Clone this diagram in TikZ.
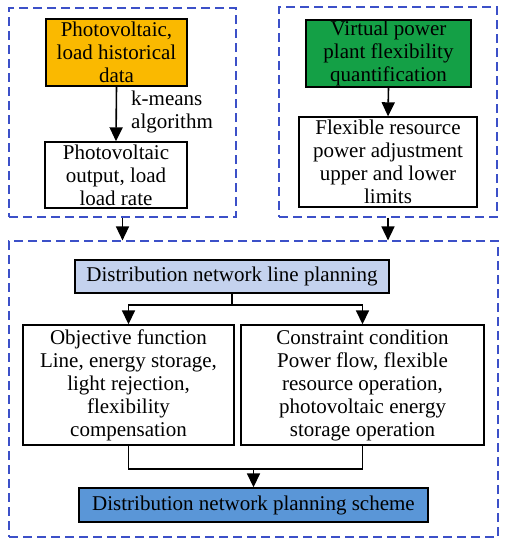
\documentclass[tikz,border=0pt]{standalone}
\usepackage{fontspec}
\setmainfont{Liberation Serif}
\usetikzlibrary{arrows.meta}
\definecolor{dashblue}{RGB}{60,80,200}
\definecolor{boxorange}{RGB}{250,185,0}
\definecolor{boxgreen}{RGB}{20,160,70}
\definecolor{lightblue}{RGB}{196,210,238}
\definecolor{midblue}{RGB}{90,150,215}
\begin{document}
\begin{tikzpicture}[x=1pt,y=-1pt,
  every node/.style={font=\fontsize{21}{23}\selectfont, inner sep=0pt, align=center},
  blockbox/.style={draw=black, line width=1.4pt, rectangle},
  groupbox/.style={draw=dashblue, line width=1.2pt, dash pattern=on 9pt off 5pt, rectangle},
  arr/.style={line width=1.6pt, -{Triangle[length=14pt,width=13pt]}},
  ln/.style={line width=1.6pt}]
\useasboundingbox (0,0) rectangle (506,550);
% group boxes
\node[groupbox, minimum width=227pt, minimum height=209pt] (L) at (122.5,112.5) {};
\node[groupbox, minimum width=218pt, minimum height=210pt] (R) at (388,112) {};
\node[groupbox, minimum width=489pt, minimum height=296pt] (B) at (253.5,389) {};
% blocks
\node[blockbox, fill=boxorange, minimum width=141pt, minimum height=67pt] (pv) at (116.5,52.5) {Photovoltaic,\\load historical\\data};
\node[blockbox, fill=white, minimum width=142pt, minimum height=66pt] (out) at (116,175) {Photovoltaic\\output, load\\load rate};
\node[anchor=west, align=left] (km) at (131,112) {k-means\\algorithm};
\node[blockbox, fill=boxgreen, minimum width=165pt, minimum height=67pt] (vpp) at (388.5,53.5) {Virtual power\\plant flexibility\\quantification};
\node[blockbox, fill=white, minimum width=178pt, minimum height=90pt] (flex) at (388,162) {Flexible resource\\power adjustment\\upper and lower\\limits};
\node[blockbox, fill=lightblue, minimum width=314pt, minimum height=33pt] (plan) at (232,276.5) {Distribution network line planning};
\node[blockbox, fill=white, minimum width=211pt, minimum height=120pt] (obj) at (128.5,385) {Objective function\\Line, energy storage,\\light rejection,\\flexibility\\compensation};
\node[blockbox, fill=white, minimum width=243pt, minimum height=120pt] (con) at (362.5,385) {Constraint condition\\Power flow, flexible\\resource operation,\\photovoltaic energy\\storage operation};
\node[blockbox, fill=midblue, minimum width=349pt, minimum height=34pt] (sch) at (253.5,505) {Distribution network planning scheme};
% connectors
\draw[arr] (pv.south) -- (out.north);
\draw[arr] (vpp.south) -- (flex.north);
\draw[arr] (L.south) -- (L.south |- B.north);
\draw[arr] (R.south) -- (R.south |- B.north);
\coordinate (split) at (232,305);
\draw[ln] (plan.south) -- (split);
\draw[arr] (split) -| (obj.north);
\draw[arr] (split) -| (con.north);
\coordinate (merge) at (253.5,469);
\draw[ln] (obj.south) |- (merge);
\draw[ln] (con.south) |- (merge);
\draw[arr] (merge) -- (sch.north);
\end{tikzpicture}
\end{document}
